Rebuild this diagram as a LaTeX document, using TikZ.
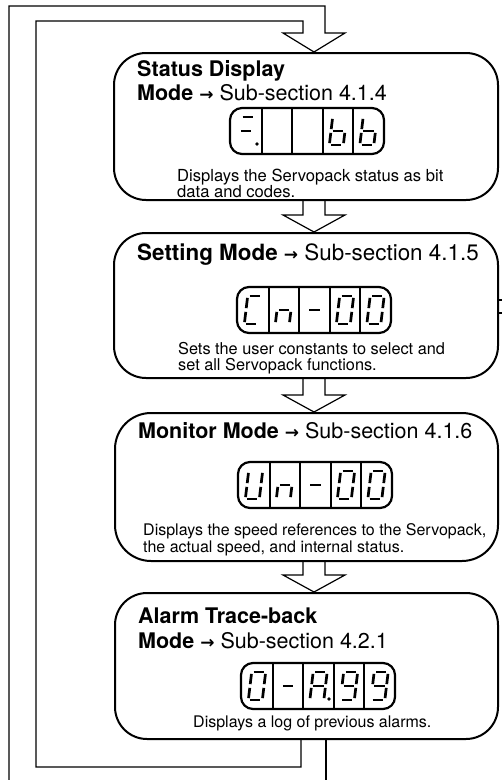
\documentclass[tikz,border=0pt]{standalone}
\usepackage{fontspec}
\setmainfont{TeX Gyre Heros}
\newfontfamily\arrowfont{DejaVu Sans}
\usetikzlibrary{calc}
\newcommand{\toarrow}{{\fontsize{17}{17}\selectfont\arrowfont\bfseries →}}
% segment lists of the seven-segment digits
\newcommand{\dgzero}{tl/tr,tr/mr,mr/br,bl/br,ml/bl,tl/ml}
\newcommand{\dgnine}{tl/tr,tr/mr,mr/br,bl/br,tl/ml,ml/mr}
\newcommand{\dgA}{tl/tr,tr/mr,mr/br,ml/bl,tl/ml,ml/mr}
\newcommand{\dgb}{tl/ml,ml/bl,ml/mr,mr/br,bl/br}
\newcommand{\dgC}{tl/tr,tl/ml,ml/bl,bl/br}
\newcommand{\dgn}{ml/bl,ml/mr,mr/br}
\newcommand{\dgU}{tr/mr,mr/br,bl/br,ml/bl,tl/ml}
\newcommand{\dgminus}{ml/mr}
\newcommand{\dgbar}{tl/tr,ml/mr}
\newcommand{\segdigit}[3]{%
  \begin{scope}[shift={(#1,#2)},xslant=0.12]
    \coordinate (tl) at (-7,-14);
    \coordinate (tr) at (7,-14);
    \coordinate (ml) at (-7,0);
    \coordinate (mr) at (7,0);
    \coordinate (bl) at (-7,14);
    \coordinate (br) at (7,14);
    \foreach \p/\q in #3 \draw[seg] (\p) -- (\q);
  \end{scope}}
\newcommand{\lcd}{%
  \draw[lcdframe] (0,0) rectangle (154,46);
  \foreach \dx in {32,62,93,123} \draw[lcdcell] (\dx,0) -- (\dx,46);}
\newcommand{\hollow}[2]{%
  \coordinate (tip) at (314,0 |- #2.north);
  \draw[loopline] (303,0 |- #1.south) -- ($(tip)+(-11,-17)$) -- ($(tip)+(-31,-17)$)
    -- (tip) -- ($(tip)+(31,-17)$) -- ($(tip)+(11,-17)$) -- (325,0 |- #1.south);}

\begin{document}
\begin{tikzpicture}[x=1pt,y=-1pt,
  modebox/.style={draw,line width=2pt,rounded corners=32pt,anchor=north west,inner sep=0pt},
  loopline/.style={line width=1.2pt},
  lcdframe/.style={line width=2.2pt,rounded corners=12pt},
  lcdcell/.style={line width=1.1pt},
  seg/.style={line width=2.7pt,shorten >=1.9pt,shorten <=1.9pt},
  head/.style={anchor=base west,inner sep=0pt,font=\fontsize{21.5}{24}\selectfont},
  desc/.style={anchor=base west,inner sep=0pt,font=\fontsize{16}{17}\selectfont}]
\useasboundingbox (0,0) rectangle (502,780);

% mode boxes
\node[modebox,minimum width=384pt,minimum height=147pt] (status) at (113,52) {};
\node[modebox,minimum width=384pt,minimum height=145pt] (setting) at (113,232) {};
\node[modebox,minimum width=383pt,minimum height=148pt,rounded corners=36pt] (monitor) at (114,412) {};
\node[modebox,minimum width=383pt,minimum height=146pt] (alarm) at (114,592) {};

% loop back to the top
\draw[loopline] (9,780) -- (9,6) -- (325,6) -- (325,33) -- (345,33) -- (314,52)
  -- (283,33) -- (303,33) -- (303,21) -- (36,21) -- (36,767) -- (301,767)
  -- (301,0 |- alarm.south);
\draw[loopline] (326,0 |- alarm.south) -- (326,780);

\hollow{status}{setting}
\hollow{setting}{monitor}
\hollow{monitor}{alarm}

\draw[loopline] (setting.east |- 0,300) -- (502,300);
\draw[loopline] (setting.east |- 0,313) -- (502,313);

% texts
\node[head] (t1a) at (137,76) {\textbf{Status Display}};
\node[head] (t1b) at (137,100) {\textbf{Mode}~\toarrow~Sub-section 4.1.4};
\node[desc,font=\fontsize{16.6}{17}\selectfont] (d1a) at (177,181) {Displays the Servopack status as bit};
\node[desc,font=\fontsize{16.6}{17}\selectfont] (d1b) at (177,197) {data and codes.};

\node[head,font=\fontsize{22.4}{24}\selectfont] (t2) at (137,260) {\textbf{Setting Mode}~\toarrow~Sub-section 4.1.5};
\node[desc,font=\fontsize{16.3}{17}\selectfont] (d2a) at (178,354) {Sets the user constants to select and};
\node[desc,font=\fontsize{16.3}{17}\selectfont] (d2b) at (178,370) {set all Servopack functions.};

\node[head] (t3) at (138,438) {\textbf{Monitor Mode}~\toarrow~Sub-section 4.1.6};
\node[desc] (d3a) at (143,535) {Displays the speed references to the Servopack,};
\node[desc] (d3b) at (143,552) {the actual speed, and internal status.};

\node[head] (t4a) at (138,623) {\textbf{Alarm Trace-back}};
\node[head] (t4b) at (138,648) {\textbf{Mode}~\toarrow~Sub-section 4.2.1};
\node[desc] (d4) at (193,727) {Displays a log of previous alarms.};

% panel displays
\begin{scope}[shift={(230,108)}]
  \lcd
  \segdigit{16}{23}{\dgbar}
  \fill (27,36) circle (1.8);
  \segdigit{108}{23}{\dgb}
  \segdigit{138.5}{23}{\dgb}
\end{scope}
\begin{scope}[shift={(237,287)}]
  \lcd
  \segdigit{16}{23}{\dgC}
  \segdigit{47}{23}{\dgn}
  \segdigit{77.5}{23}{\dgminus}
  \segdigit{108}{23}{\dgzero}
  \segdigit{138.5}{23}{\dgzero}
\end{scope}
\begin{scope}[shift={(238,462)}]
  \lcd
  \segdigit{16}{23}{\dgU}
  \segdigit{47}{23}{\dgn}
  \segdigit{77.5}{23}{\dgminus}
  \segdigit{108}{23}{\dgzero}
  \segdigit{138.5}{23}{\dgzero}
\end{scope}
\begin{scope}[shift={(241,663)}]
  \lcd
  \segdigit{16}{23}{\dgzero}
  \segdigit{47}{23}{\dgminus}
  \segdigit{77.5}{23}{\dgA}
  \fill (88,36) circle (1.8);
  \segdigit{108}{23}{\dgnine}
  \segdigit{138.5}{23}{\dgnine}
\end{scope}
\end{tikzpicture}
\end{document}
